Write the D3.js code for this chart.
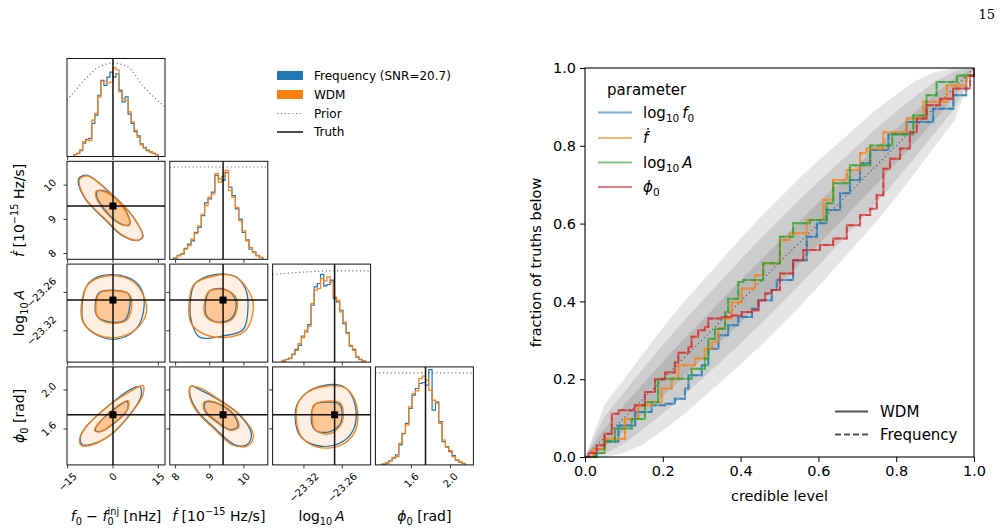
<!DOCTYPE html>
<html>
<head>
<meta charset="utf-8">
<script src="https://cdn.jsdelivr.net/npm/d3@7"></script>
<style>
  body { margin: 0; background: #fff; }
  svg { font-family: "DejaVu Sans", sans-serif; }
</style>
</head>
<body>
<svg id="fig" width="1003" height="532"></svg>
<script>
// ---------- corner plot data ----------
const paramRange = [[-15.2, 17.2], [7.83, 10.70], [-23.369, -23.2157], [1.231, 2.236]];
const paramTicks = [[-15, 0, 15], [8, 9, 10], [-23.32, -23.26], [1.6, 2.0]];
const paramTickLabels = [["−15", "0", "15"], ["8", "9", "10"], ["−23.32", "−23.26"], ["1.6", "2.0"]];
const truths = [0, 9.39, -23.272, 1.745];

// histogram bin ranges and heights (arbitrary count units)
const histEdges = [[-13, 15], [7.95, 10.55], [-23.354, -23.224], [1.30, 2.154]];
const histTop = [296, 292, 293, 295];
const histWdm = [
  [5, 10, 20, 45, 50, 48, 110, 130, 180, 228, 228, 222, 225, 268, 262, 195, 175, 170, 135, 105, 80, 58, 35, 25, 20, 15, 10, 5],
  [5, 10, 17, 30, 40, 60, 77, 100, 135, 160, 185, 195, 255, 230, 247, 265, 205, 185, 155, 115, 85, 55, 35, 20, 10, 5],
  [5, 7, 10, 25, 35, 55, 73, 95, 107, 175, 215, 220, 250, 243, 255, 240, 195, 185, 150, 120, 85, 50, 35, 17, 7, 3],
  [3, 5, 13, 23, 25, 65, 93, 120, 175, 215, 223, 260, 267, 255, 225, 195, 185, 125, 75, 53, 43, 25, 15, 10, 5]
];
const histFreq = [
  [6, 9, 18, 40, 52, 55, 100, 125, 185, 230, 215, 240, 255, 240, 250, 200, 165, 180, 128, 100, 75, 62, 38, 28, 18, 14, 9, 6],
  [4, 12, 15, 33, 45, 55, 80, 95, 130, 168, 180, 200, 250, 240, 235, 258, 215, 190, 150, 120, 80, 58, 30, 22, 12, 6],
  [3, 8, 12, 22, 38, 50, 78, 90, 112, 170, 225, 235, 262, 228, 232, 245, 190, 180, 155, 115, 88, 48, 38, 15, 8, 3],
  [2, 6, 12, 20, 30, 60, 95, 125, 170, 210, 230, 245, 248, 240, 287, 165, 190, 130, 70, 55, 40, 28, 14, 8, 4]
];
const priorX = [[-15.2, -10, -5, 0, 5, 10, 17.2], [7.83, 10.70], [-23.369, -23.33, -23.29, -23.25, -23.2157], [1.231, 2.236]];
const priorY = [[170, 225, 268, 282, 270, 212, 150], [275, 275], [262, 268, 272, 273, 272], [277, 277]];

// 2D contours (inner ~1 sigma, outer ~2 sigma), points in data units
const ctrFdotF0 = {
  wdmOuter: [[-11.0, 10.18], [-8.3, 10.27], [-1.1, 9.78], [6.6, 9.08], [9.9, 8.48], [8.3, 8.39], [3.3, 8.53], [-2.2, 8.98], [-8.8, 9.58], [-11.0, 9.98]],
  freqOuter: [[-11.3, 10.2], [-8.5, 10.29], [-1.2, 9.8], [6.4, 9.1], [9.8, 8.5], [8.1, 8.38], [3.1, 8.52], [-2.4, 8.97], [-9.0, 9.58], [-11.3, 10.0]],
  wdmInner: [[-5.5, 9.83], [-3.3, 9.83], [1.1, 9.58], [5.0, 9.08], [5.5, 8.83], [3.3, 8.83], [-1.1, 9.08], [-5.0, 9.53], [-5.8, 9.73]],
  freqInner: [[-5.2, 9.82], [-3.0, 9.84], [1.3, 9.6], [5.1, 9.1], [5.6, 8.86], [3.4, 8.84], [-0.9, 9.1], [-4.8, 9.55], [-5.5, 9.72]]
};
const ctrLogAF0 = {
  wdmOuter: [[-10.5, -23.2799], [-8.3, -23.2478], [-2.2, -23.2343], [5.5, -23.2398], [9.4, -23.2584], [11.1, -23.2905], [7.7, -23.3173], [1.1, -23.3306], [-5.5, -23.3253], [-9.9, -23.3065]],
  freqOuter: [[-10.2, -23.28], [-8.0, -23.245], [-2.0, -23.2325], [5.8, -23.2385], [9.6, -23.257], [10.0, -23.292], [7.3, -23.319], [1.0, -23.333], [-5.2, -23.327], [-9.6, -23.308]],
  wdmInner: [[-5.5, -23.2744], [-4.4, -23.2611], [0, -23.2574], [5.5, -23.2638], [6.1, -23.2852], [4.4, -23.304], [-1.1, -23.3076], [-5.0, -23.2985]],
  freqInner: [[-5.8, -23.275], [-4.6, -23.2605], [0.2, -23.2565], [5.2, -23.2625], [5.4, -23.2865], [3.9, -23.3035], [-1.3, -23.306], [-5.2, -23.2975]]
};
const ctrLogAFdot = {
  wdmOuter: [[8.39, -23.2799], [8.53, -23.2478], [9.12, -23.2343], [9.70, -23.2343], [10.09, -23.2531], [10.28, -23.2825], [10.04, -23.32], [9.41, -23.3306], [8.73, -23.3226], [8.44, -23.3065]],
  freqOuter: [[8.42, -23.281], [8.56, -23.247], [9.10, -23.2325], [9.74, -23.235], [10.05, -23.255], [10.12, -23.2835], [9.98, -23.318], [9.40, -23.328], [8.70, -23.330], [8.47, -23.307]],
  wdmInner: [[8.85, -23.2744], [8.97, -23.2584], [9.41, -23.2558], [9.75, -23.2664], [9.80, -23.2852], [9.61, -23.304], [9.17, -23.3065], [8.87, -23.2959]],
  freqInner: [[8.88, -23.275], [9.0, -23.2575], [9.42, -23.2548], [9.72, -23.267], [9.76, -23.287], [9.58, -23.303], [9.15, -23.3055], [8.9, -23.296]]
};
const ctrPhiF0 = {
  wdmOuter: [[-11.0, 1.50], [-9.4, 1.60], [-1.1, 1.845], [6.6, 2.0], [9.9, 2.046], [9.9, 1.948], [5.5, 1.741], [-1.1, 1.534], [-7.7, 1.43], [-10.5, 1.43]],
  freqOuter: [[-10.8, 1.51], [-9.2, 1.61], [-1.0, 1.85], [6.2, 2.01], [8.9, 2.035], [9.3, 1.935], [5.3, 1.735], [-1.2, 1.53], [-7.5, 1.44], [-10.2, 1.44]],
  wdmInner: [[-6.1, 1.585], [-4.4, 1.672], [1.1, 1.828], [5.0, 1.89], [5.0, 1.81], [0, 1.655], [-4.4, 1.569]],
  freqInner: [[-5.9, 1.59], [-4.2, 1.675], [1.2, 1.82], [4.7, 1.88], [4.8, 1.8], [0.1, 1.65], [-4.2, 1.572]]
};
const ctrPhiFdot = {
  wdmOuter: [[8.44, 2.035], [8.73, 2.018], [9.22, 1.914], [9.90, 1.741], [10.28, 1.534], [10.14, 1.43], [9.70, 1.43], [9.12, 1.603], [8.63, 1.776], [8.41, 1.932]],
  freqOuter: [[8.45, 2.04], [8.72, 2.0], [9.2, 1.91], [9.85, 1.75], [10.22, 1.55], [10.1, 1.44], [9.72, 1.44], [9.14, 1.61], [8.65, 1.78], [8.43, 1.935]],
  wdmInner: [[8.83, 1.873], [9.12, 1.880], [9.70, 1.759], [9.85, 1.621], [9.61, 1.586], [9.12, 1.689], [8.85, 1.782]],
  freqInner: [[8.86, 1.868], [9.14, 1.872], [9.68, 1.752], [9.82, 1.625], [9.6, 1.592], [9.14, 1.695], [8.87, 1.785]]
};
const ctrPhiLogA = {
  wdmOuter: [[-23.3314, 1.81], [-23.32, 1.948], [-23.2888, 2.035], [-23.2548, 2.018], [-23.2377, 1.845], [-23.2392, 1.585], [-23.2627, 1.43], [-23.2991, 1.414], [-23.3252, 1.534]],
  freqOuter: [[-23.333, 1.80], [-23.318, 1.96], [-23.29, 2.045], [-23.257, 2.03], [-23.24, 1.85], [-23.242, 1.60], [-23.265, 1.45], [-23.30, 1.43], [-23.327, 1.54]],
  wdmInner: [[-23.3069, 1.707], [-23.3044, 1.845], [-23.2834, 1.886], [-23.2627, 1.862], [-23.26, 1.672], [-23.2783, 1.551], [-23.3017, 1.585]],
  freqInner: [[-23.3085, 1.72], [-23.302, 1.855], [-23.282, 1.875], [-23.264, 1.85], [-23.262, 1.665], [-23.28, 1.57], [-23.303, 1.59]]
};

// ---------- P-P plot data ----------
const ppGrid = [0, .05, .1, .15, .2, .25, .3, .35, .4, .45, .5, .55, .6, .65, .7, .75, .8, .85, .9, .95, 1];
const band1Lo = [0, .026, .067, .111, .156, .202, .25, .298, .346, .395, .445, .495, .546, .598, .65, .702, .756, .811, .867, .926, 1];
const band1Hi = [0, .074, .133, .189, .244, .298, .35, .402, .454, .505, .555, .605, .654, .702, .75, .798, .844, .889, .933, .974, 1];
const band2Lo = [0, .008, .034, .072, .112, .154, .2, .246, .292, .34, .39, .44, .492, .546, .6, .654, .712, .772, .834, .895, 1];
const band2Hi = [0, .105, .166, .228, .288, .346, .4, .454, .508, .56, .61, .66, .708, .754, .8, .846, .888, .928, .966, .992, 1];
const band3Lo = [0, 0, .01, .033, .068, .106, .15, .194, .238, .285, .335, .385, .438, .494, .55, .606, .668, .733, .8, .865, 1];
const band3Hi = [0, .135, .2, .267, .332, .394, .45, .506, .562, .615, .665, .715, .762, .806, .85, .894, .932, .967, .99, 1, 1];

const ppF0 = [[0, 0], [0.03, 0.02], [0.05, 0.04], [0.086, 0.081], [0.129, 0.116], [0.171, 0.133], [0.206, 0.137], [0.231, 0.15], [0.257, 0.176], [0.266, 0.21], [0.3, 0.236], [0.317, 0.278], [0.343, 0.313], [0.368, 0.339], [0.394, 0.36], [0.429, 0.381], [0.446, 0.403], [0.48, 0.429], [0.493, 0.455], [0.535, 0.506], [0.57, 0.566], [0.596, 0.601], [0.621, 0.635], [0.656, 0.678], [0.681, 0.712], [0.707, 0.755], [0.733, 0.789], [0.78, 0.83], [0.827, 0.861], [0.853, 0.861], [0.895, 0.895], [0.947, 0.93], [0.98, 0.98], [1, 1]];
const ppFdot = [[0, 0], [0.02, 0.02], [0.051, 0.047], [0.103, 0.098], [0.137, 0.133], [0.171, 0.141], [0.197, 0.176], [0.223, 0.201], [0.24, 0.236], [0.283, 0.253], [0.308, 0.278], [0.326, 0.296], [0.343, 0.33], [0.36, 0.356], [0.377, 0.398], [0.403, 0.433], [0.437, 0.467], [0.458, 0.498], [0.501, 0.558], [0.527, 0.575], [0.57, 0.609], [0.613, 0.661], [0.638, 0.712], [0.673, 0.738], [0.707, 0.781], [0.724, 0.793], [0.767, 0.835], [0.827, 0.87], [0.87, 0.913], [0.93, 0.955], [0.98, 0.98], [1, 1]];
const ppLogA = [[0, 0], [0.026, 0.01], [0.05, 0.04], [0.077, 0.073], [0.12, 0.098], [0.154, 0.141], [0.188, 0.201], [0.257, 0.201], [0.274, 0.227], [0.308, 0.253], [0.317, 0.304], [0.334, 0.33], [0.36, 0.373], [0.368, 0.407], [0.394, 0.45], [0.407, 0.455], [0.458, 0.498], [0.501, 0.566], [0.535, 0.601], [0.578, 0.609], [0.621, 0.652], [0.638, 0.704], [0.681, 0.75], [0.733, 0.801], [0.79, 0.83], [0.844, 0.878], [0.878, 0.93], [0.904, 0.964], [0.956, 0.981], [1, 1]];
const ppPhi = [[0, 0], [0.01, 0.01], [0.03, 0.03], [0.05, 0.06], [0.069, 0.111], [0.086, 0.12], [0.128, 0.133], [0.154, 0.167], [0.18, 0.2], [0.206, 0.217], [0.231, 0.243], [0.24, 0.268], [0.266, 0.283], [0.274, 0.309], [0.291, 0.326], [0.308, 0.334], [0.317, 0.356], [0.351, 0.36], [0.377, 0.364], [0.403, 0.373], [0.429, 0.377], [0.446, 0.403], [0.463, 0.42], [0.48, 0.429], [0.501, 0.472], [0.535, 0.506], [0.561, 0.532], [0.604, 0.545], [0.638, 0.562], [0.673, 0.596], [0.707, 0.622], [0.733, 0.638], [0.75, 0.673], [0.767, 0.741], [0.784, 0.767], [0.81, 0.793], [0.835, 0.835], [0.853, 0.87], [0.878, 0.904], [0.913, 0.921], [0.946, 0.947], [0.99, 0.981], [1, 1]];
const ppTicks = [0, 0.2, 0.4, 0.6, 0.8, 1.0];

const blue = "#1f77b4", orange = "#ff7f0e", green = "#2ca02c", red = "#d62728";

const svg = d3.select("#fig");

// text with italic / sub / sup pieces
function rich(sel, parts, fs) {
  let off = 0;
  parts.forEach(p => {
    const t = sel.append("tspan").text(p.t);
    let target = 0;
    if (p.sub) target = fs * 0.28;
    if (p.sup) target = -fs * 0.42;
    if (target !== off) t.attr("dy", target - off);
    off = target;
    if (p.sub || p.sup) t.attr("font-size", fs * 0.7);
    if (p.it) t.attr("font-style", "italic");
    if (p.dx) t.attr("dx", p.dx * fs);
  });
}

const labF0 = [{t: "f", it: 1}, {t: "0", sub: 1}, {t: " − "}, {t: "f", it: 1}, {t: "0", sub: 1}, {t: "inj", sup: 1, dx: -0.445}, {t: " [nHz]"}];
const labFdot = [{t: "ḟ", it: 1}, {t: " [10"}, {t: "−15", sup: 1}, {t: " Hz/s]"}];
const labLogA = [{t: "log"}, {t: "10", sub: 1}, {t: "\u2009"}, {t: "A", it: 1}];
const labPhi = [{t: "ϕ", it: 1}, {t: "0", sub: 1}, {t: " [rad]"}];
const axisLabels = [labF0, labFdot, labLogA, labPhi];

// ---------- corner plot ----------
const S = 98, cLeft = 67, cTop = 58.5, cStep = 102.8;
const xs = paramRange.map((d, i) => d3.scaleLinear().domain(d).range([cLeft + i * cStep, cLeft + i * cStep + S]));
const ys = paramRange.map((d, i) => d3.scaleLinear().domain(d).range([cTop + i * cStep + S, cTop + i * cStep]));
const contourPanels = [[1, 0, ctrFdotF0], [2, 0, ctrLogAF0], [2, 1, ctrLogAFdot], [3, 0, ctrPhiF0], [3, 1, ctrPhiFdot], [3, 2, ctrPhiLogA]];
const corner = svg.append("g");
const tickFs = 10;

for (let r = 0; r < 4; r++) {
  for (let c = 0; c <= r; c++) drawPanel(r, c);
}

function drawPanel(r, c) {
  const x = xs[c];
  const left = cLeft + c * cStep, top = cTop + r * cStep, bottom = top + S;
  const id = "clip" + r + c;
  corner.append("clipPath").attr("id", id)
    .append("rect").attr("x", left).attr("y", top).attr("width", S).attr("height", S);
  const g = corner.append("g").attr("clip-path", `url(#${id})`);

  if (r === c) {
    const y = d3.scaleLinear().domain([0, histTop[c]]).range([bottom, top]);
    g.append("path")
      .datum(d3.zip(priorX[c], priorY[c]))
      .attr("d", d3.line().x(d => x(d[0])).y(d => y(d[1])).curve(d3.curveMonotoneX))
      .attr("fill", "none").attr("stroke", "#777").attr("stroke-width", 1.2)
      .attr("stroke-dasharray", "1.2,2.6");
    [[histFreq[c], blue], [histWdm[c], orange]].forEach(([h, col]) => {
      const [lo, hi] = histEdges[c];
      const w = (hi - lo) / h.length;
      const pts = [[lo, 0]];
      h.forEach((v, i) => { pts.push([lo + i * w, v]); pts.push([lo + (i + 1) * w, v]); });
      pts.push([hi, 0]);
      g.append("path").datum(pts)
        .attr("d", d3.line().x(d => x(d[0])).y(d => y(d[1])))
        .attr("fill", "none").attr("stroke", col).attr("stroke-width", 1.2);
    });
    g.append("line").attr("x1", x(truths[c])).attr("x2", x(truths[c]))
      .attr("y1", top).attr("y2", bottom).attr("stroke", "#111").attr("stroke-width", 1.5);
  } else {
    const y = ys[r];
    const ctr = contourPanels.find(p => p[0] === r && p[1] === c)[2];
    const shape = d3.line().x(d => x(d[0])).y(d => y(d[1])).curve(d3.curveCatmullRomClosed.alpha(0.5));
    g.append("path").attr("d", shape(ctr.wdmOuter)).attr("fill", orange).attr("fill-opacity", 0.12);
    g.append("path").attr("d", shape(ctr.wdmInner)).attr("fill", orange).attr("fill-opacity", 0.36);
    [["freqOuter", blue], ["freqInner", blue], ["wdmOuter", orange], ["wdmInner", orange]].forEach(([k, col]) => {
      g.append("path").attr("d", shape(ctr[k])).attr("fill", "none")
        .attr("stroke", col).attr("stroke-width", 1.3);
    });
    g.append("line").attr("x1", x(truths[c])).attr("x2", x(truths[c]))
      .attr("y1", top).attr("y2", bottom).attr("stroke", "#111").attr("stroke-width", 1.5);
    g.append("line").attr("x1", left).attr("x2", left + S)
      .attr("y1", y(truths[r])).attr("y2", y(truths[r])).attr("stroke", "#111").attr("stroke-width", 1.5);
    g.append("rect").attr("x", x(truths[c]) - 3.5).attr("y", y(truths[r]) - 3.5)
      .attr("width", 7).attr("height", 7).attr("fill", "#000");

    // left ticks
    paramTicks[r].forEach((t, i) => {
      corner.append("line").attr("x1", left - 3.5).attr("x2", left)
        .attr("y1", y(t)).attr("y2", y(t)).attr("stroke", "#222").attr("stroke-width", 0.9);
      if (c === 0) {
        const tx = corner.append("text").attr("font-size", tickFs)
          .attr("text-anchor", "middle").attr("dominant-baseline", "central")
          .text(paramTickLabels[r][i]);
        const L = tx.node().getComputedTextLength();
        const half = (L + tickFs) * 0.707 / 2;
        tx.attr("transform", `translate(${left - 9 - half},${y(t)}) rotate(-45)`);
      }
    });
  }

  corner.append("rect").attr("x", left).attr("y", top).attr("width", S).attr("height", S)
    .attr("fill", "none").attr("stroke", "#111").attr("stroke-width", 1);

  // bottom ticks
  paramTicks[c].forEach((t, i) => {
    corner.append("line").attr("x1", x(t)).attr("x2", x(t))
      .attr("y1", bottom).attr("y2", bottom + 3.5).attr("stroke", "#222").attr("stroke-width", 0.9);
    if (r === 3) {
      const tx = corner.append("text").attr("font-size", tickFs)
        .attr("text-anchor", "middle").attr("dominant-baseline", "central")
        .text(paramTickLabels[c][i]);
      const L = tx.node().getComputedTextLength();
      const half = (L + tickFs) * 0.707 / 2;
      tx.attr("transform", `translate(${x(t)},${bottom + 6 + half}) rotate(-45)`);
    }
  });

  if (r === 3) {
    const t = corner.append("text").attr("x", left + S / 2).attr("y", 521)
      .attr("text-anchor", "middle").attr("font-size", 14);
    rich(t, axisLabels[c], 14);
  }
  if (c === 0 && r > 0) {
    const t = corner.append("text")
      .attr("transform", `translate(24,${top + S / 2}) rotate(-90)`)
      .attr("text-anchor", "middle").attr("font-size", 14);
    rich(t, axisLabels[r], 14);
  }
}

// corner legend
const leg = svg.append("g").attr("font-size", 12);
const legItems = [["Frequency (SNR=20.7)", "rect", blue], ["WDM", "rect", orange], ["Prior", "dot", "#777"], ["Truth", "line", "#111"]];
const legY = [75.5, 94.5, 113.5, 132];
legItems.forEach(([name, kind, col], i) => {
  const yy = legY[i];
  if (kind === "rect") leg.append("rect").attr("x", 277).attr("y", yy - 4.5).attr("width", 26).attr("height", 9).attr("fill", col);
  else leg.append("line").attr("x1", 277).attr("x2", 303).attr("y1", yy).attr("y2", yy)
    .attr("stroke", col).attr("stroke-width", kind === "dot" ? 1.2 : 1.5)
    .attr("stroke-dasharray", kind === "dot" ? "1.2,2.6" : null);
  leg.append("text").attr("x", 314).attr("y", yy + 4.3).text(name);
});

// ---------- P-P plot ----------
const px = d3.scaleLinear().domain([0, 1]).range([585, 974]);
const py = d3.scaleLinear().domain([0, 1]).range([457, 68]);
const pp = svg.append("g");

[[band3Lo, band3Hi], [band2Lo, band2Hi], [band1Lo, band1Hi]].forEach(([lo, hi]) => {
  pp.append("path")
    .datum(ppGrid.map((v, i) => [v, lo[i], hi[i]]))
    .attr("d", d3.area().x(d => px(d[0])).y0(d => py(d[1])).y1(d => py(d[2])))
    .attr("fill", "#000").attr("fill-opacity", 0.1);
});

pp.append("line").attr("x1", px(0)).attr("y1", py(0)).attr("x2", px(1)).attr("y2", py(1))
  .attr("stroke", "#555").attr("stroke-width", 1.1).attr("stroke-dasharray", "1.2,2.8");

const ppSeries = [[ppF0, blue], [ppFdot, orange], [ppLogA, green], [ppPhi, red]];
const stepLine = d3.line().x(d => px(d[0])).y(d => py(d[1])).curve(d3.curveStepAfter);
ppSeries.forEach(([data, col]) => {
  pp.append("path").datum(data).attr("d", stepLine)
    .attr("fill", "none").attr("stroke", col).attr("stroke-width", 2)
    .attr("stroke-opacity", 0.6).attr("stroke-dasharray", "6,3");
  pp.append("path").datum(data).attr("d", stepLine)
    .attr("fill", "none").attr("stroke", col).attr("stroke-width", 2)
    .attr("stroke-opacity", 0.6);
});

const ax = pp.append("g").attr("transform", "translate(0,457)")
  .call(d3.axisBottom(px).tickValues(ppTicks).tickFormat(d3.format(".1f")).tickSize(5).tickPadding(4));
const ay = pp.append("g").attr("transform", "translate(585,0)")
  .call(d3.axisLeft(py).tickValues(ppTicks).tickFormat(d3.format(".1f")).tickSize(5).tickPadding(4));
[ax, ay].forEach(a => {
  a.select(".domain").remove();
  a.selectAll("text").attr("font-size", 14.5).attr("font-family", "DejaVu Sans").attr("fill", "#000");
  a.selectAll("line").attr("stroke", "#000");
});
pp.append("rect").attr("x", 585).attr("y", 68).attr("width", 389).attr("height", 389)
  .attr("fill", "none").attr("stroke", "#000").attr("stroke-width", 1.1);

pp.append("text").attr("x", 779.5).attr("y", 501).attr("text-anchor", "middle")
  .attr("font-size", 14.5).text("credible level");
pp.append("text").attr("transform", "translate(541,262.5) rotate(-90)").attr("text-anchor", "middle")
  .attr("font-size", 14.5).text("fraction of truths below");

// parameter legend
const ppLeg = pp.append("g").attr("font-size", 15);
ppLeg.append("text").attr("x", 607).attr("y", 94.5).text("parameter");
const ppLegLabels = [
  [{t: "log"}, {t: "10", sub: 1}, {t: "\u2009"}, {t: "f", it: 1}, {t: "0", sub: 1}],
  [{t: "ḟ", it: 1}],
  [{t: "log"}, {t: "10", sub: 1}, {t: "\u2009"}, {t: "A", it: 1}],
  [{t: "ϕ", it: 1}, {t: "0", sub: 1}]
];
const ppLegY = [112.5, 138, 162.5, 187];
ppSeries.forEach(([d, col], i) => {
  ppLeg.append("line").attr("x1", 598).attr("x2", 632).attr("y1", ppLegY[i]).attr("y2", ppLegY[i])
    .attr("stroke", col).attr("stroke-width", 2).attr("stroke-opacity", 0.6);
  const t = ppLeg.append("text").attr("x", 643).attr("y", ppLegY[i] + 5.2);
  rich(t, ppLegLabels[i], 15);
});

// style legend
const styleLeg = pp.append("g").attr("font-size", 15);
[["WDM", null, 411.5], ["Frequency", "6,3", 434.5]].forEach(([name, dash, yy]) => {
  styleLeg.append("line").attr("x1", 835).attr("x2", 868).attr("y1", yy).attr("y2", yy)
    .attr("stroke", "#555").attr("stroke-width", 2).attr("stroke-dasharray", dash);
  styleLeg.append("text").attr("x", 880).attr("y", yy + 5.3).text(name);
});

// page number
svg.append("text").attr("x", 995).attr("y", 18.5).attr("text-anchor", "end")
  .attr("font-family", "DejaVu Serif, serif").attr("font-size", 13).text("15");
</script>
</body>
</html>
